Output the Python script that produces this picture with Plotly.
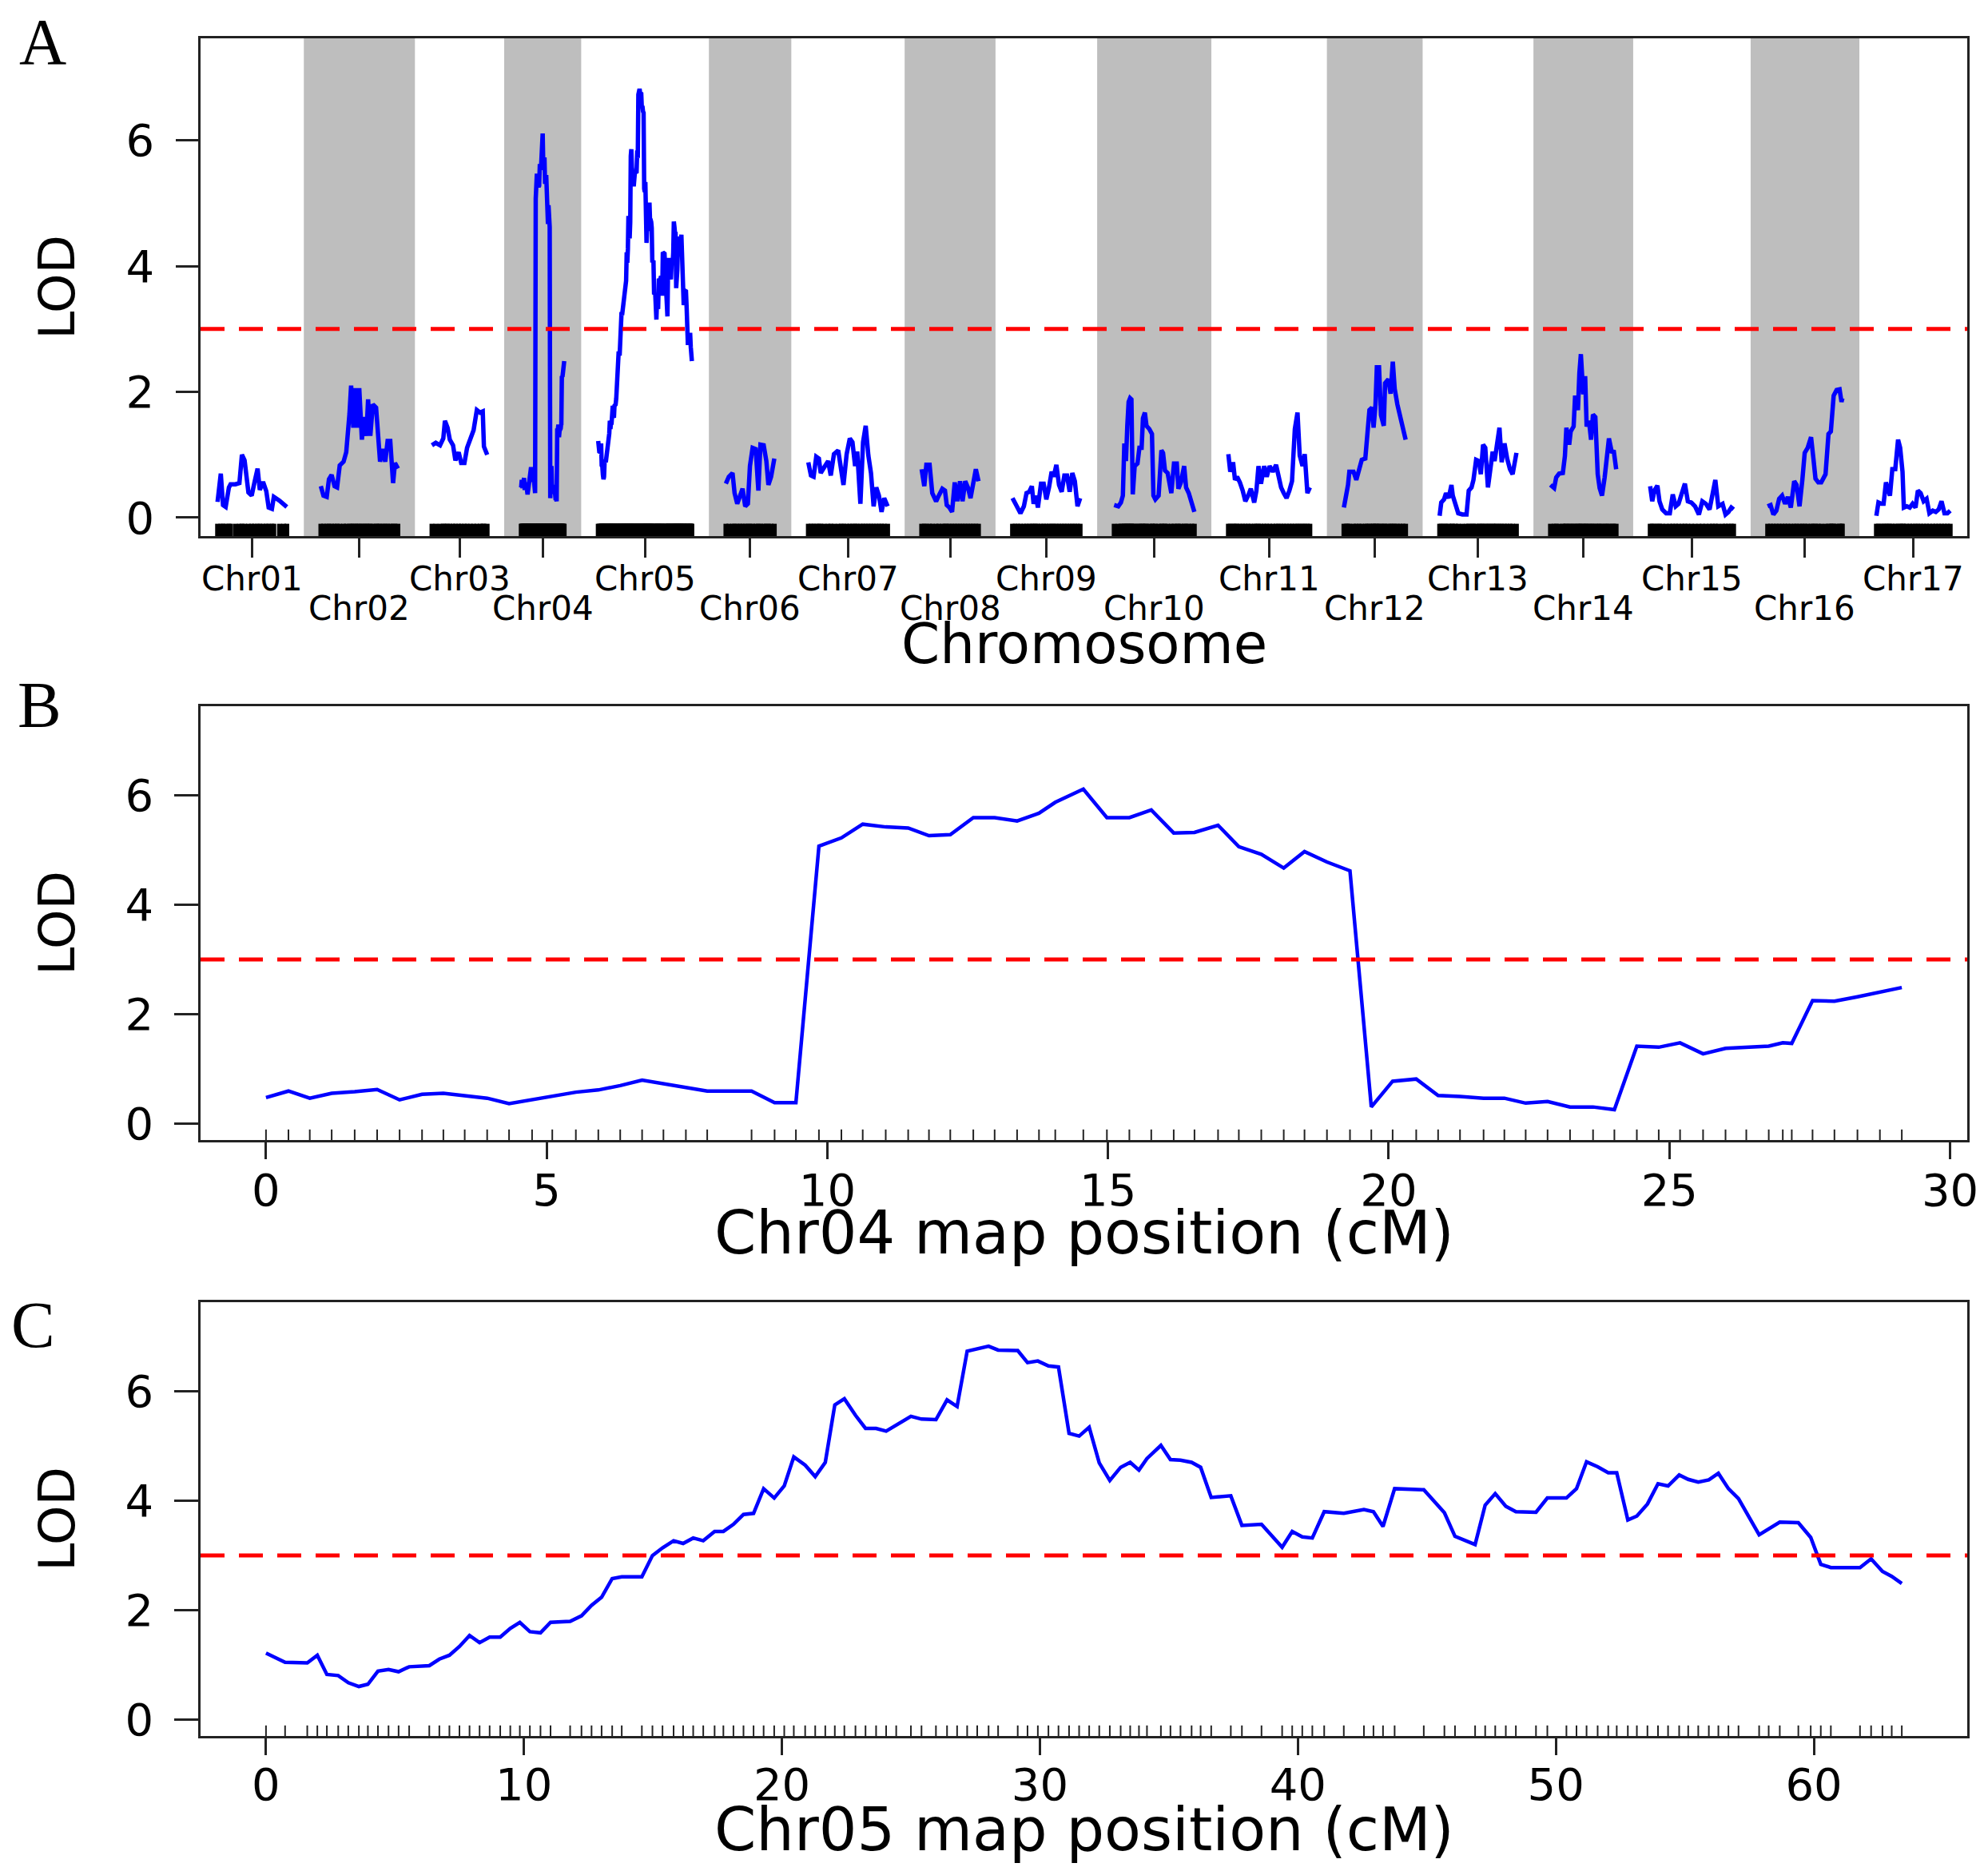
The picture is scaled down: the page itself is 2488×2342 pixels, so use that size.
import plotly.graph_objects as go

# LOD scan, Chr01..Chr17 (position in cM inside each chromosome, LOD score)
chr_names = ['Chr01', 'Chr02', 'Chr03', 'Chr04', 'Chr05', 'Chr06', 'Chr07', 'Chr08', 'Chr09',
             'Chr10', 'Chr11', 'Chr12', 'Chr13', 'Chr14', 'Chr15', 'Chr16', 'Chr17']

chr01_pos = [0, 2.2, 3.7, 5.5, 7.7, 8.8, 12.1, 14.8, 16.5, 18.3, 20.9, 23.1, 24.9, 27.1, 28.6, 30.8,
             33.0, 34.6, 36.8, 38.1, 41.9, 44.7, 46.9]
chr01_lod = [0.25, 0.70, 0.20, 0.17, 0.48, 0.53, 0.53, 0.55, 1.0, 0.91, 0.40, 0.35, 0.55, 0.78, 0.44, 0.57,
             0.42, 0.16, 0.14, 0.33, 0.27, 0.22, 0.17]

chr02_pos = [0, 1.8, 4.0, 5.5, 7.3, 9.3, 11.0, 12.8, 15.4, 17.2, 19.4, 20.5, 22.0, 23.3, 24.9, 26.0,
             27.8, 29.1, 30.8, 32.0, 33.5, 35.2, 37.4, 38.5, 40.1, 41.9, 43.6, 45.2, 47.0, 48.9, 50.2, 52.2]
chr02_lod = [0.50, 0.35, 0.33, 0.61, 0.68, 0.50, 0.48, 0.83, 0.89, 1.04, 1.65, 2.10, 1.43, 2.06, 1.43, 2.06,
             1.24, 1.60, 1.30, 1.88, 1.30, 1.80, 1.75, 1.41, 0.89, 1.09, 0.89, 1.22, 1.22, 0.55, 0.87, 0.78]

chr03_pos = [0, 2.6, 5.5, 7.7, 8.8, 10.6, 12.1, 14.3, 15.9, 18.1, 19.8, 22.0, 23.8, 26.0, 28.2, 30.4,
             32.6, 34.4, 35.2, 37.4]
chr03_lod = [1.15, 1.19, 1.15, 1.26, 1.54, 1.43, 1.24, 1.15, 0.91, 1.04, 0.87, 0.87, 1.11, 1.28, 1.39, 1.71,
             1.67, 1.69, 1.13, 1.0]

chr04_pos = [0, 0.40, 0.78, 1.17, 1.58, 1.98, 2.38, 2.78, 3.16, 3.54, 3.94, 4.33, 4.74, 5.10, 5.52, 5.92,
             6.31, 6.70, 7.08, 7.48, 7.86, 8.65, 9.06, 9.44, 9.85, 10.25, 10.63, 11.04, 11.44, 11.81,
             12.19, 12.60, 12.98, 13.38, 13.77, 14.06, 14.56, 14.98, 15.38, 15.77, 16.17, 16.54, 16.96,
             17.33, 17.73, 18.13, 18.50, 18.90, 19.31, 19.69, 20.07, 20.49, 20.88, 21.27, 21.69, 22.06,
             22.44, 22.83, 23.23, 23.64, 24.02, 24.42, 24.81, 25.19, 25.60, 26.00, 26.37, 26.77, 27.02,
             27.18, 27.55, 27.94, 28.35, 28.75, 29.14]
chr04_lod = [0.48, 0.60, 0.47, 0.56, 0.59, 0.63, 0.44, 0.54, 0.56, 0.52, 0.47, 0.37, 0.44, 0.51, 0.58, 0.62,
             0.70, 0.80, 0.73, 0.66, 0.60, 0.60, 0.39, 0.39, 5.07, 5.22, 5.47, 5.42, 5.40, 5.26,
             5.28, 5.59, 5.59, 5.53, 5.67, 5.87, 6.11, 5.59, 5.59, 5.73, 5.31, 5.32, 5.45,
             5.06, 4.92, 4.67, 4.97, 4.78, 4.62, 0.31, 0.78, 0.82, 0.52, 0.50, 0.47, 0.47,
             0.38, 0.41, 0.31, 0.31, 0.26, 1.42, 1.40, 1.48, 1.28, 1.38, 1.40, 1.42, 1.48,
             1.47, 2.25, 2.24, 2.32, 2.40, 2.49]

chr05_pos = [0, 0.74, 1.60, 1.99, 2.36, 2.80, 3.19, 3.60, 3.95, 4.34, 4.75, 5.14, 5.55, 6.33, 6.72, 7.11,
             7.50, 7.89, 8.28, 8.67, 9.08, 9.47, 9.84, 10.23, 10.64, 11.03, 11.79, 12.23, 12.62, 13.01,
             13.42, 13.79, 14.57, 14.98, 15.37, 15.80, 16.17, 16.56, 16.95, 17.39, 17.73, 18.12, 18.51,
             18.90, 19.29, 19.70, 20.09, 20.46, 20.90, 21.29, 21.68, 22.05, 22.42, 22.85, 23.24, 23.65,
             24.04, 24.43, 25.00, 25.41, 25.97, 26.40, 26.79, 27.18, 27.57, 28.01, 28.38, 29.14, 29.52,
             29.92, 30.33, 30.72, 31.13, 31.52, 31.91, 32.30, 32.71, 33.13, 33.50, 33.84, 34.15, 34.69,
             35.06, 35.45, 35.88, 36.23, 36.64, 37.40, 37.83, 38.59, 39.39, 39.78, 40.17, 40.56, 41.02,
             41.78, 42.56, 42.93, 43.30, 43.75, 44.88, 45.68, 46.09, 46.87, 47.26, 47.65, 48.06, 48.45,
             49.23, 49.67, 50.41, 50.80, 51.19, 51.62, 52.03, 52.36, 52.79, 53.14, 53.55, 53.96, 54.35,
             54.78, 55.13, 55.52, 55.93, 56.30, 56.69, 57.08, 57.88, 58.25, 58.68, 59.40, 59.88, 60.27,
             60.66, 61.79, 62.22, 62.66, 63.02, 63.41]
chr05_lod = [1.22, 1.05, 1.04, 1.18, 0.83, 0.81, 0.68, 0.61, 0.65, 0.89, 0.92, 0.88, 0.97, 0.99, 1.11, 1.18,
             1.34, 1.54, 1.41, 1.51, 1.51, 1.67, 1.78, 1.61, 1.59, 1.78, 1.80, 1.90, 2.09, 2.24,
             2.58, 2.61, 2.61, 3.00, 3.14, 3.27, 3.22, 3.32, 3.27, 3.44, 3.44, 3.57, 3.75,
             3.77, 4.22, 4.05, 4.27, 4.80, 4.65, 4.44, 4.70, 5.75, 5.86, 5.56, 5.32, 5.32,
             5.27, 5.38, 5.54, 5.49, 5.48, 5.84, 5.72, 6.73, 6.77, 6.82, 6.75, 6.74, 6.52,
             6.55, 6.46, 6.44, 5.23, 5.18, 5.34, 4.69, 4.37, 4.61, 4.70, 4.56, 4.77, 5.01,
             4.75, 4.74, 4.70, 4.61, 4.06, 4.09, 3.55, 3.57, 3.15, 3.44, 3.34, 3.32, 3.80,
             3.77, 3.84, 3.80, 3.53, 4.22, 4.20, 3.78, 3.35, 3.20, 3.92, 4.13, 3.90, 3.80,
             3.79, 4.05, 4.05, 4.22, 4.71, 4.62, 4.51, 4.51, 3.65, 3.72, 3.94, 4.31, 4.27,
             4.47, 4.39, 4.34, 4.38, 4.50, 4.22, 4.04, 3.38, 3.48, 3.61, 3.60, 3.33, 2.84,
             2.78, 2.78, 2.94, 2.71, 2.62, 2.49]

chr06_pos = [0, 2.0, 4.5, 5.9, 7.7, 9.5, 11.3, 13.1, 14.9, 16.3, 18.1, 20.2, 22.0, 23.4, 25.6, 27.4,
             28.8, 30.6, 32.8]
chr06_lod = [0.54, 0.65, 0.71, 0.39, 0.22, 0.37, 0.46, 0.18, 0.22, 0.82, 1.11, 1.09, 0.43, 1.16, 1.15, 0.90,
             0.52, 0.65, 0.94]

chr07_pos = [0, 1.79, 3.58, 5.37, 7.16, 8.41, 10.74, 13.42, 15.21, 17.36, 20.23, 22.37, 23.81, 25.95,
             28.10, 29.89, 31.68, 33.11, 35.26, 37.05, 38.84, 40.63, 42.42, 44.21, 46.0, 47.79, 49.58,
             51.37, 53.70]
chr07_lod = [0.88, 0.67, 0.65, 0.97, 0.94, 0.71, 0.80, 0.90, 0.67, 1.01, 1.07, 0.75, 0.52, 1.01,
             1.26, 1.20, 0.82, 1.05, 0.22, 1.20, 1.46, 0.99, 0.71, 0.18, 0.48, 0.35, 0.09,
             0.31, 0.18]

chr08_pos = [0, 1.8, 3.2, 5.4, 7.2, 9.8, 11.6, 14.0, 15.8, 17.0, 18.8, 20.6, 22.4, 24.2, 26.0, 27.7,
             29.5, 31.3, 33.1, 34.9, 36.7, 38.5]
chr08_lod = [0.77, 0.50, 0.84, 0.84, 0.39, 0.26, 0.35, 0.46, 0.43, 0.20, 0.16, 0.09, 0.56, 0.26, 0.58, 0.26,
             0.58, 0.48, 0.31, 0.58, 0.77, 0.58]

chr09_pos = [0, 1.8, 3.6, 5.4, 7.7, 9.5, 11.3, 13.1, 14.3, 15.8, 17.2, 19.3, 21.1, 22.9, 24.7, 26.5,
             27.9, 29.7, 31.5, 33.3, 35.1, 36.9, 38.7, 40.5, 42.2, 44.0, 45.8]
chr09_lod = [0.31, 0.24, 0.14, 0.07, 0.18, 0.39, 0.41, 0.50, 0.22, 0.35, 0.16, 0.54, 0.54, 0.29, 0.48, 0.73,
             0.65, 0.84, 0.52, 0.41, 0.67, 0.67, 0.41, 0.71, 0.58, 0.18, 0.31]

chr10_pos = [0, 2.8, 4.6, 5.9, 6.9, 8.0, 8.9, 9.8, 10.8, 11.7, 12.6, 13.9, 15.8, 17.1, 18.6, 19.5,
             20.8, 21.9, 23.8, 25.6, 26.6, 27.9, 30.1, 32.0, 33.1, 34.4, 36.2, 38.7, 40.5, 42.4,
             43.5, 45.2, 47.4, 48.7, 50.5, 52.6, 54.3]
chr10_lod = [0.20, 0.18, 0.24, 0.35, 1.18, 0.90, 1.46, 1.84, 1.90, 1.88, 0.37, 0.82, 0.86, 1.11, 1.11, 1.58,
             1.67, 1.46, 1.41, 1.33, 0.35, 0.29, 0.35, 1.07, 1.03, 0.75, 0.71, 0.39, 0.86, 0.86,
             0.46, 0.56, 0.82, 0.48, 0.39, 0.22, 0.09]

chr11_pos = [0, 1.3, 3.2, 4.5, 5.9, 7.8, 9.7, 11.5, 13.4, 15.2, 17.5, 19.0, 20.4, 22.1, 24.2, 26.0,
             27.9, 30.1, 32.3, 33.8, 35.7, 37.5, 39.4, 41.3, 43.1, 45.0, 46.8, 48.3, 50.2, 51.7,
             53.5, 55.2]
chr11_lod = [1.01, 0.73, 0.88, 0.60, 0.65, 0.56, 0.43, 0.26, 0.35, 0.46, 0.24, 0.43, 0.82, 0.54, 0.82, 0.65,
             0.82, 0.73, 0.84, 0.65, 0.48, 0.39, 0.31, 0.43, 0.58, 1.41, 1.67, 0.99, 0.82, 1.01,
             0.39, 0.48]

chr12_pos = [0, 1.5, 2.8, 3.7, 6.5, 8.4, 10.2, 12.1, 14.5, 15.8, 17.3, 19.0, 20.1, 21.4, 22.3, 23.8,
             25.1, 27.0, 27.9, 30.1, 31.6, 33.1, 34.4, 36.2, 38.1, 40.0, 41.8]
chr12_lod = [0.16, 0.35, 0.52, 0.73, 0.73, 0.60, 0.77, 0.92, 0.94, 1.29, 1.71, 1.75, 1.43, 1.80, 2.39, 2.39,
             1.63, 1.46, 2.14, 2.20, 1.97, 2.48, 2.05, 1.80, 1.63, 1.46, 1.24]

chr13_pos = [0, 1.1, 3.0, 4.3, 6.1, 8.0, 8.9, 10.8, 12.6, 15.4, 18.2, 19.7, 21.6, 22.9, 24.7, 26.6,
             27.9, 29.4, 30.9, 32.7, 34.0, 35.9, 37.2, 38.7, 40.5, 42.0, 43.9, 45.7, 47.6, 49.4, 52.0]
chr13_lod = [0.03, 0.24, 0.29, 0.39, 0.31, 0.52, 0.35, 0.18, 0.07, 0.05, 0.05, 0.43, 0.48, 0.60, 0.92, 0.90,
             0.69, 1.16, 1.11, 0.48, 0.75, 1.05, 0.90, 1.16, 1.43, 0.88, 1.18, 0.94, 0.77, 0.69, 1.03]

chr14_pos = [0, 2.5, 3.9, 5.9, 8.4, 9.8, 10.8, 12.7, 13.7, 15.7, 16.7, 18.6, 19.6, 20.6, 22.2, 23.5,
             24.5, 26.1, 27.5, 28.8, 30.4, 32.0, 33.3, 34.9, 36.7, 38.2, 39.6, 41.6, 42.8, 44.5]
chr14_lod = [0.52, 0.47, 0.64, 0.70, 0.71, 0.98, 1.43, 1.16, 1.37, 1.45, 1.94, 1.71, 2.30, 2.60, 1.96, 2.25,
             1.45, 1.54, 1.24, 1.64, 1.60, 0.69, 0.47, 0.35, 0.64, 0.90, 1.26, 1.03, 1.07, 0.77]

chr15_pos = [0, 1.4, 2.9, 4.9, 6.3, 8.2, 10.8, 13.3, 15.3, 17.3, 19.2, 21.6, 23.5, 25.5, 27.9, 30.4,
             33.0, 35.3, 37.7, 40.2, 42.2, 44.1, 46.1, 49.0, 51.0, 53.0, 54.9, 56.5]
chr15_lod = [0.50, 0.26, 0.43, 0.51, 0.26, 0.13, 0.07, 0.07, 0.37, 0.18, 0.22, 0.39, 0.54, 0.26, 0.24, 0.18,
             0.05, 0.26, 0.22, 0.13, 0.37, 0.60, 0.18, 0.22, 0.05, 0.09, 0.16, 0.13]

chr16_pos = [0, 2.0, 3.9, 5.9, 7.8, 9.8, 11.8, 13.7, 15.7, 18.0, 19.6, 21.6, 23.5, 25.1, 27.1, 29.4,
             31.0, 32.4, 34.3, 36.3, 39.2, 41.2, 42.8, 43.6, 44.7, 46.7, 48.7, 50.0, 50.6]
chr16_lod = [0.18, 0.20, 0.05, 0.11, 0.30, 0.35, 0.22, 0.33, 0.16, 0.58, 0.52, 0.18, 0.60, 1.03, 1.11, 1.28,
             0.94, 0.62, 0.56, 0.56, 0.69, 1.33, 1.37, 1.75, 1.94, 2.03, 2.04, 1.84, 1.90]

chr17_pos = [0, 1.4, 3.3, 4.9, 6.5, 7.8, 9.2, 10.8, 12.8, 14.7, 16.1, 17.7, 18.6, 20.6, 22.6, 24.5,
             26.5, 28.1, 30.0, 32.0, 34.0, 35.9, 38.2, 40.2, 42.2, 44.1, 46.1, 48.1, 50.0]
chr17_lod = [0.03, 0.24, 0.22, 0.22, 0.56, 0.43, 0.35, 0.77, 0.77, 1.24, 1.11, 0.73, 0.16, 0.18, 0.16, 0.22,
             0.16, 0.43, 0.39, 0.26, 0.30, 0.07, 0.11, 0.09, 0.13, 0.26, 0.07, 0.07, 0.11]

lod_threshold = 3
lod_ticks = [0, 2, 4, 6]
chr04_ticks = [0, 5, 10, 15, 20, 25, 30]
chr05_ticks = [0, 10, 20, 30, 40, 50, 60]
lod_max = 7.33      # upper ylim used in all three panels
gap = 23            # cM between chromosomes in panel A

all_pos = [chr01_pos, chr02_pos, chr03_pos, chr04_pos, chr05_pos, chr06_pos, chr07_pos, chr08_pos,
           chr09_pos, chr10_pos, chr11_pos, chr12_pos, chr13_pos, chr14_pos, chr15_pos, chr16_pos, chr17_pos]
all_lod = [chr01_lod, chr02_lod, chr03_lod, chr04_lod, chr05_lod, chr06_lod, chr07_lod, chr08_lod,
           chr09_lod, chr10_lod, chr11_lod, chr12_lod, chr13_lod, chr14_lod, chr15_lod, chr16_lod, chr17_lod]

BLUE = '#0000FF'
RED = '#FF0000'
SHADE = '#BEBEBE'
INK = '#222222'
FONT = 'DejaVu Sans'

# page is 2488 x 2342, the html body adds an 8 px margin at left/top;
# the figure runs to the right window edge so the last tick label has room
OFF = 8
W, H = 2488 - OFF, 2342 - 2 * OFF
PL, PR, PT, PB = 251, 2466, 48, 2173      # plot block edges on the page
ML, MT = PL - OFF, PT - OFF
MR, MB = W - (PR - OFF), H - (PB - OFF)
pw, ph = PR - PL, PB - PT


def py(y_page):
    return (PB - y_page) / ph


def px(x_page):
    return (x_page - PL) / pw


y_range = [-0.04 * lod_max, 1.04 * lod_max]

fig = go.Figure()

# ---- panel A: genome scan ----
offsets = []
off = 0
for p in all_pos:
    offsets.append(off)
    off += p[-1] + gap
genome_end = offsets[-1] + all_pos[-1][-1]
mids = [o + p[-1] / 2 for o, p in zip(offsets, all_pos)]

shapes = []
for i, (o, p) in enumerate(zip(offsets, all_pos)):
    if i % 2 == 1:
        shapes.append(dict(type='rect', xref='x', yref='y domain', x0=o - gap / 2, x1=o + p[-1] + gap / 2,
                           y0=0, y1=1, fillcolor=SHADE, line=dict(width=0), layer='below'))

rug_a = y_range[0] + 0.08
for o, p, l in zip(offsets, all_pos, all_lod):
    xs = [o + v for v in p]
    fig.add_trace(go.Scatter(x=xs, y=[rug_a] * len(xs), mode='markers', xaxis='x', yaxis='y',
                             marker=dict(symbol='line-ns', size=13, line=dict(width=6, color='black')),
                             hoverinfo='skip', showlegend=False))
    fig.add_trace(go.Scatter(x=xs, y=l, mode='lines', xaxis='x', yaxis='y',
                             line=dict(color=BLUE, width=5.5), showlegend=False))

# ---- panels B and C: single chromosome scans ----
rug_bc = y_range[0] + 0.08
for pos, lod, xa, ya in [(chr04_pos, chr04_lod, 'x2', 'y2'), (chr05_pos, chr05_lod, 'x3', 'y3')]:
    fig.add_trace(go.Scatter(x=pos, y=[rug_bc] * len(pos), mode='markers', xaxis=xa, yaxis=ya,
                             marker=dict(symbol='line-ns', size=11, line=dict(width=2, color=INK)),
                             hoverinfo='skip', showlegend=False))
    fig.add_trace(go.Scatter(x=pos, y=lod, mode='lines', xaxis=xa, yaxis=ya,
                             line=dict(color=BLUE, width=4.5), showlegend=False))

for xa, ya in [('x', 'y'), ('x2', 'y2'), ('x3', 'y3')]:
    shapes.append(dict(type='line', xref=xa + ' domain', yref=ya, x0=0, x1=1, y0=lod_threshold, y1=lod_threshold,
                       line=dict(color=RED, width=5, dash='30px,18px'), layer='above'))

frame = dict(showline=True, mirror=True, linecolor=INK, linewidth=2.5, showgrid=False,
             zeroline=False, ticks='outside', tickcolor=INK, tickwidth=2.5,
             tickfont=dict(family=FONT, size=56, color='black'))

dom_a = [py(671), 1.0]
dom_b = [py(1427), py(884)]
dom_c = [0.0, py(1630)]

pad4 = 0.04 * chr04_pos[-1]
pad5 = 0.04 * chr05_pos[-1]

fig.update_layout(
    width=W, height=H,
    margin=dict(l=ML, r=MR, t=MT, b=MB),
    paper_bgcolor='white', plot_bgcolor='white',
    font=dict(family=FONT, color='black'),
    showlegend=False,
    shapes=shapes,
    xaxis=dict(frame, domain=[0, 1], anchor='y', range=[-gap / 2, genome_end + gap / 2],
               tickvals=mids, showticklabels=False, ticklen=24),
    yaxis=dict(frame, domain=dom_a, anchor='x', range=y_range, tickvals=lod_ticks,
               ticklen=28, ticklabelstandoff=16),
    xaxis2=dict(frame, domain=[0, 1], anchor='y2', range=[-pad4, chr04_pos[-1] + pad4],
                tickvals=chr04_ticks, ticklen=21, ticklabelstandoff=-9),
    yaxis2=dict(frame, domain=dom_b, anchor='x2', range=y_range, tickvals=lod_ticks,
                ticklen=30, ticklabelstandoff=15),
    xaxis3=dict(frame, domain=[0, 1], anchor='y3', range=[-pad5, chr05_pos[-1] + pad5],
                tickvals=chr05_ticks, ticklen=21, ticklabelstandoff=-11),
    yaxis3=dict(frame, domain=dom_c, anchor='x3', range=y_range, tickvals=lod_ticks,
                ticklen=30, ticklabelstandoff=15),
)

ann = []
for i, (name, m) in enumerate(zip(chr_names, mids)):
    ann.append(dict(text=name, x=m, xref='x', y=py(724) if i % 2 == 0 else py(762), yref='paper',
                    showarrow=False, xanchor='center', yanchor='middle',
                    font=dict(family=FONT, size=42, color='black')))

for txt, yc, fs in [('Chromosome', 806, 69), ('Chr04 map position (cM)', 1543, 75),
                    ('Chr05 map position (cM)', 2290, 75)]:
    ann.append(dict(text=txt, x=0.5, xref='paper', y=py(yc), yref='paper', showarrow=False,
                    xanchor='center', yanchor='middle', font=dict(family=FONT, size=fs, color='black')))

for yc in [(PT + 671) / 2, (884 + 1427) / 2, (1630 + PB) / 2]:
    ann.append(dict(text='LOD', x=px(71), xref='paper', y=py(yc), yref='paper', showarrow=False,
                    textangle=-90, xanchor='center', yanchor='middle',
                    font=dict(family=FONT, size=63, color='black')))

for letter, xc, yc in [('A', 53, 53), ('B', 49, 882), ('C', 41, 1658)]:
    ann.append(dict(text=letter, x=px(xc), xref='paper', y=py(yc), yref='paper', showarrow=False,
                    xanchor='center', yanchor='middle',
                    font=dict(family='Liberation Serif', size=82, color='black')))

fig.update_layout(annotations=ann)

fig.write_html('out.html')
